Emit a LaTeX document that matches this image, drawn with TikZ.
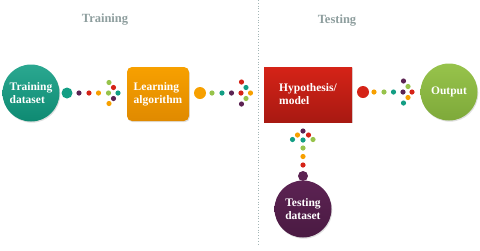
\documentclass[tikz,border=0pt]{standalone}
\usepackage{fontspec}
\setmainfont{Liberation Serif}
\usetikzlibrary{shadows}

% palette
\definecolor{cteal}{HTML}{139E84}
\definecolor{ctealdk}{HTML}{0E8A72}
\definecolor{corange}{HTML}{F7A000}
\definecolor{corangedk}{HTML}{E08A00}
\definecolor{cred}{HTML}{D52317}
\definecolor{creddk}{HTML}{A81912}
\definecolor{cgreen}{HTML}{97C34B}
\definecolor{cgreendk}{HTML}{7EA93A}
\definecolor{cpurple}{HTML}{5C2353}
\definecolor{cpurpledk}{HTML}{4A1A42}
\definecolor{ctitle}{HTML}{8E9E9E}
\definecolor{cdivider}{HTML}{A4B6B6}

% a run of small dots: x/y/colour triples
\newcommand\pebbles[1]{%
  \foreach \px/\py/\pc in {#1} \fill[\pc] (\px,\py) circle[radius=2.6pt];}

\begin{document}
\begin{tikzpicture}[x=1pt,y=-1pt,
  txt/.style={font=\bfseries\fontsize{11.5}{13}\selectfont, text=white, align=left},
  softshadow/.style={drop shadow={opacity=0.25, shadow xshift=0.8pt, shadow yshift=-1.2pt}},
  ball/.style={circle, inner sep=0pt, minimum size=57pt, txt, softshadow},
  block/.style={inner sep=0pt, txt, softshadow},
  heading/.style={font=\bfseries\fontsize{12.5}{14}\selectfont, text=ctitle}]

\useasboundingbox (0,0) rectangle (480,250);

% divider between the two phases
\draw[cdivider, line width=0.8pt, dotted] (258,0) -- (258,246);

\node[heading] (htrain) at (105,20) {Training};
\node[heading] (htest) at (337,21) {Testing};

% stages
\node[ball, top color=cteal!90!white, bottom color=ctealdk] (train) at (31,93) {Training\\dataset};
\node[block, minimum width=62pt, minimum height=54pt, rounded corners=5pt,
      top color=corange, bottom color=corangedk] (learn) at (158,94) {Learning\\algorithm};
\node[block, minimum width=88pt, minimum height=55pt,
      top color=cred, bottom color=creddk] (model) at (308,94.5) {Hypothesis/\\model};
\node[ball, top color=cgreen, bottom color=cgreendk] (out) at (449,92) {Output};
\node[ball, top color=cpurple, bottom color=cpurpledk] (test) at (303,209) {Testing\\dataset};

% dotted arrow: training dataset -> learning algorithm
\fill[cteal] (67,93) circle[radius=5.5pt];
\pebbles{79/93/cpurple, 89/93/cred, 98.5/93/corange, 108.5/93/cgreen, 118/93/cteal,
         113.5/87.5/cred, 109/82.5/cgreen, 113.5/98.5/cpurple, 109/103.5/corange}

% dotted arrow: learning algorithm -> model
\fill[corange] (200,93) circle[radius=6pt];
\pebbles{212/93/cgreen, 222/93/cteal, 231.5/93/cpurple, 241/93/cred, 250.5/93/corange,
         246/87.5/cteal, 241.5/82/cred, 246/98.5/cgreen, 241.5/104/cpurple}

% dotted arrow: model -> output
\fill[cred] (363,92) circle[radius=6pt];
\pebbles{374/92/corange, 384/92/cgreen, 393.5/92/cteal, 403/92/cpurple, 412/92/cred,
         408/86.5/cgreen, 403.5/81/cpurple, 408/97.5/corange, 403.5/103/cteal}

% dotted arrow: testing dataset -> model (upwards)
\fill[cpurple] (303,176) circle[radius=5pt];
\pebbles{303/165/cred, 303/156.5/corange, 303/148/cgreen, 303/140/cteal, 303/131/cpurple,
         297.5/135/corange, 292.5/139.5/cteal, 308.5/135/cred, 313/139.5/cgreen}

\end{tikzpicture}
\end{document}
